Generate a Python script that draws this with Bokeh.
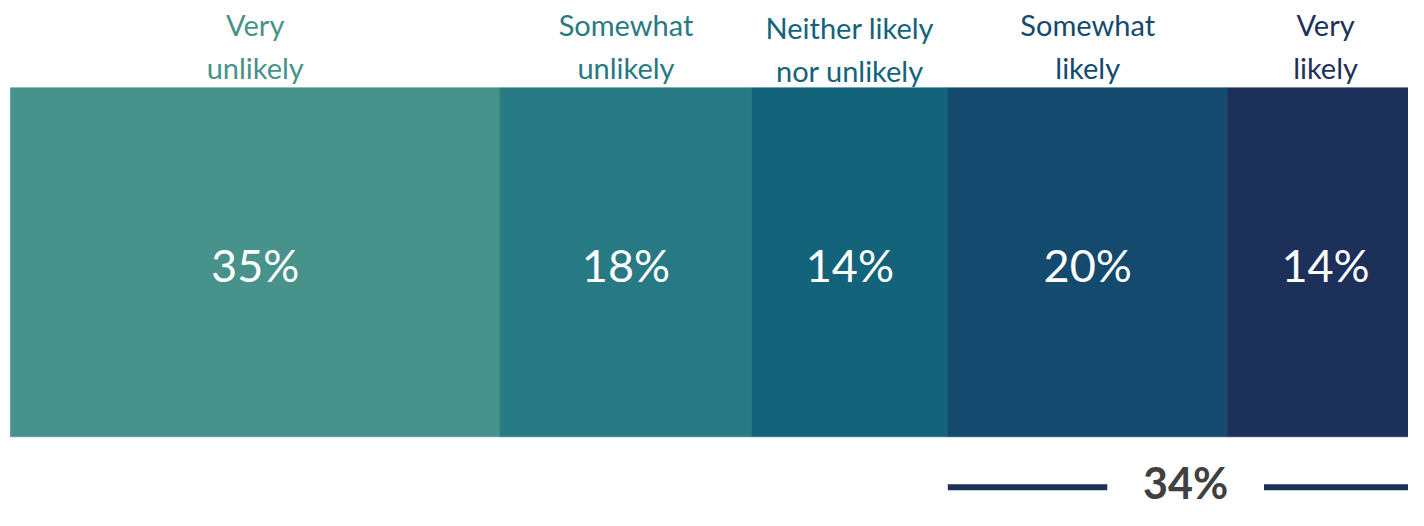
from bokeh.plotting import figure
from bokeh.models import Range1d, ColumnDataSource
from bokeh.core.properties import value
from bokeh.embed import file_html
from bokeh.resources import INLINE

# ---- data ----
categories = ["Very\nunlikely", "Somewhat\nunlikely", "Neither likely\nnor unlikely",
              "Somewhat\nlikely", "Very\nlikely"]
values = [35, 18, 14, 20, 14]
colors = ["#47928A", "#277A83", "#13637A", "#134A6E", "#1C3059"]
likely_idx = [3, 4]

FONT = "Lato"
W, H = 1408, 510
REF_W, REF_H = 1424, 526
scale = 14.15      # reference px per percent
left_px = 10       # reference px where the bar starts
x0 = -left_px / scale
x1 = (REF_W - left_px) / scale

lefts, rights = [], []
acc = 0
for v in values:
    lefts.append(acc)
    acc += v
    rights.append(acc)
centers = [(l + r) / 2 for l, r in zip(lefts, rights)]

p = figure(width=W, height=H, output_backend="svg", toolbar_location=None,
           x_range=Range1d(x0, x1), y_range=Range1d(REF_H, 0),
           min_border=0, outline_line_color=None)
p.axis.visible = False
p.grid.visible = False
p.background_fill_color = "white"
p.border_fill_color = "white"

src = ColumnDataSource(dict(left=lefts, right=rights, color=colors, c=centers,
                            lab=[f"{v}%" for v in values]))
p.quad(left="left", right="right", top=90, bottom=450, fill_color="color",
       line_color="color", line_width=0.6, source=src)

p.text(x="c", y=273, text="lab", source=src, text_color="white",
       text_font=value(FONT), text_font_size="45px", text_align="center",
       text_baseline="middle")

line1 = [c.split("\n")[0] for c in categories]
line2 = [c.split("\n")[1] for c in categories]
p.text(x=centers, y=[25, 25, 28, 25, 25], text=line1, text_color=colors,
       text_font=value(FONT), text_font_size="29px", text_align="center",
       text_baseline="middle")
p.text(x=centers, y=[69, 69, 72, 69, 69], text=line2, text_color=colors,
       text_font=value(FONT), text_font_size="29px", text_align="center",
       text_baseline="middle")

# total likely bracket
lk_start = lefts[likely_idx[0]]
lk_end = rights[likely_idx[-1]]
lk_total = sum(values[i] for i in likely_idx)
mid = (lk_start + lk_end) / 2
gap = 5.6
p.segment(x0=[lk_start, mid + gap], x1=[mid - gap, lk_end], y0=502, y1=502,
          line_color="#1C3059", line_width=6)
p.text(x=[mid], y=[497], text=[f"{lk_total}%"], text_color="#404040",
       text_font=value(FONT), text_font_size="43px", text_font_style="bold",
       text_align="center", text_baseline="middle")

open("out.html", "w").write(file_html(p, INLINE))
